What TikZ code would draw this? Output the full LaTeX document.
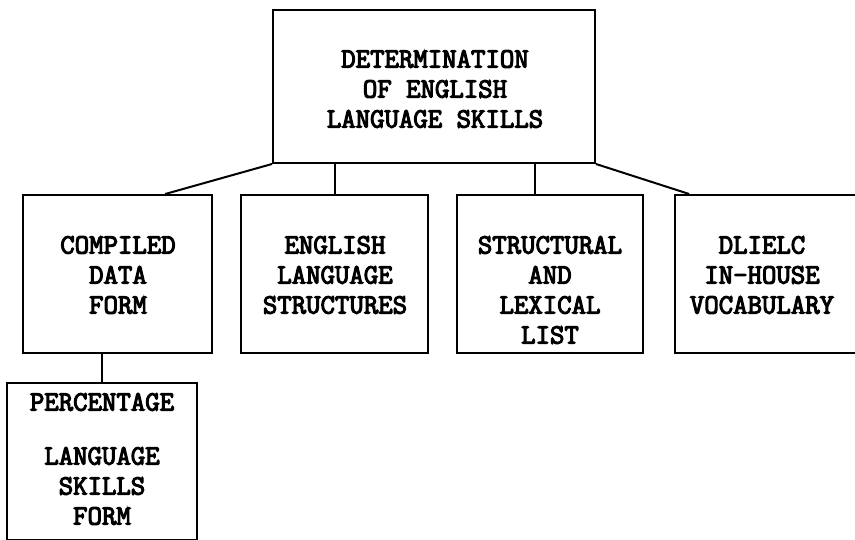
\documentclass[tikz,border=0pt]{standalone}
\usepackage{fontspec}
\newfontfamily\typewr[FakeBold=4]{Latin Modern Mono}
\usetikzlibrary{calc}
\tikzset{
  box/.style={draw, line width=2pt, inner sep=0pt},
  txt/.style={font=\typewr\fontsize{28}{30}\selectfont, align=center, inner sep=0pt},
  link/.style={line width=2pt}
}
\begin{document}
\begin{tikzpicture}[x=1pt,y=-1pt]
\useasboundingbox (0,0) rectangle (855,540);
\clip (0,0) rectangle (855,540);
% boxes
\node[box, minimum width=322pt, minimum height=153pt] (T) at (434,86.5) {};
\node[box, minimum width=189pt, minimum height=158pt] (C) at (117.5,274) {};
\node[box, minimum width=187pt, minimum height=158pt] (E) at (334.5,274) {};
\node[box, minimum width=186pt, minimum height=158pt] (S) at (550,274) {};
\node[box, minimum width=200pt, minimum height=158pt] (D) at (775,274) {};
\node[box, minimum width=190pt, minimum height=157pt] (P) at (102,461.5) {};
% texts
\node[txt] (Tt) at (435,89) {DETERMINATION\\OF ENGLISH\\LANGUAGE SKILLS};
\node[txt] (Ct) at (118,275) {COMPILED\\DATA\\FORM};
\node[txt] (Et) at (335,275) {ENGLISH\\LANGUAGE\\STRUCTURES};
\node[txt] (St) at (550,290) {STRUCTURAL\\AND\\LEXICAL\\LIST};
\node[txt] (Dt) at (762,275) {DLIELC\\IN-HOUSE\\VOCABULARY};
\node[txt] (Pt) at (102,459) {PERCENTAGE\\[24pt]LANGUAGE\\SKILLS\\FORM};
% connectors
\coordinate (cC) at ($(C.north west)!0.75!(C.north east)$);
\coordinate (cD) at ($(D.north west)!0.075!(D.north east)$);
\coordinate (cS) at ($(S.north)+(-15,0)$);
\draw[link] (T.south west) -- (cC);
\draw[link] (T.south east) -- (cD);
\draw[link] (E.north) -- (E.north |- T.south);
\draw[link] (cS) -- (cS |- T.south);
\draw[link] (P.north) -- (P.north |- C.south);
\end{tikzpicture}
\end{document}
